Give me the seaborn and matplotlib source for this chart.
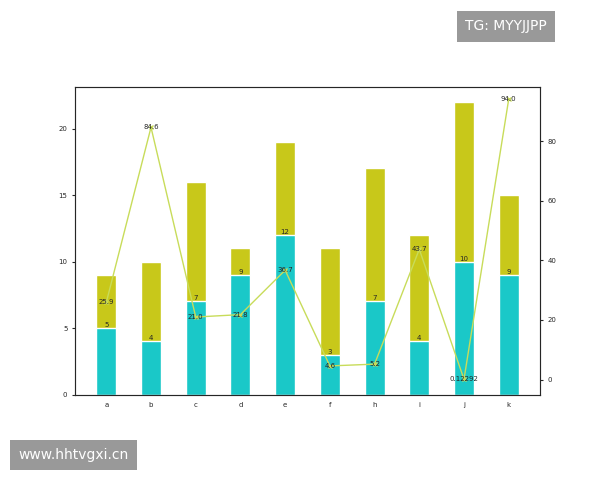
import matplotlib
matplotlib.use("Agg")
import matplotlib.pyplot as plt
import seaborn as sns
import pandas as pd

sns.set_style("white")
plt.rcParams['font.family'] = ['DejaVu Sans']

cats = ['a', 'b', 'c', 'd', 'e', 'f', 'h', 'i', 'j', 'k']
bottom_vals = [5, 4, 7, 9, 12, 3, 7, 4, 10, 9]
totals = [9, 10, 16, 11, 19, 11, 17, 12, 22, 15]
line_vals = [25.9, 84.6, 21.0, 21.8, 36.7, 4.6, 5.2, 43.7, 0.12292, 94.0]
line_labels = ['25.9', '84.6', '21.0', '21.8', '36.7', '4.6', '5.2', '43.7', '0.12292', '94.0']

fig = plt.figure(figsize=(6, 4.8), dpi=100)
ax = fig.add_axes([0.125, 0.178, 0.775, 0.64])
df_t = pd.DataFrame({'cat': cats, 'v': totals})
df_b = pd.DataFrame({'cat': cats, 'v': bottom_vals})
sns.barplot(data=df_t, x='cat', y='v', color='#c8c81a', saturation=1, width=0.45, ax=ax)
sns.barplot(data=df_b, x='cat', y='v', color='#1ac8c8', saturation=1, width=0.45, ax=ax)
for i, b in enumerate(bottom_vals):
    ax.text(i, b, str(b), ha='center', va='bottom', fontsize=5)
ax.set_xlabel(''); ax.set_ylabel('')
ax.set_ylim(0, 23.1)
ax.set_yticks([0, 5, 10, 15, 20])
ax.set_xlim(-0.7, 9.7)
ax.tick_params(labelsize=5, length=2)
for s in ax.spines.values():
    s.set_color('#888888'); s.set_linewidth(0.8)

ax2 = ax.twinx()
ax2.plot(range(len(cats)), line_vals, color='#c8dc5a', marker='x', markersize=3, linewidth=1)
for i, (v, l) in enumerate(zip(line_vals, line_labels)):
    ax2.text(i, v, l, ha='center', va='center', fontsize=5)
ax2.set_ylim(-5, 98)
ax2.set_yticks([0, 20, 40, 60, 80])
ax2.tick_params(labelsize=5, length=2)
ax2.set_xlim(-0.7, 9.7)

fig.text(0.775, 0.945, 'TG: MYYJJPP', color='white', fontsize=10, ha='left', va='center',
         bbox=dict(facecolor='#999999', edgecolor='none', pad=6))
fig.text(0.03, 0.052, 'www.hhtvgxi.cn', color='white', fontsize=10, ha='left', va='center',
         bbox=dict(facecolor='#999999', edgecolor='none', pad=6))
fig.savefig('out.png', dpi=100)
